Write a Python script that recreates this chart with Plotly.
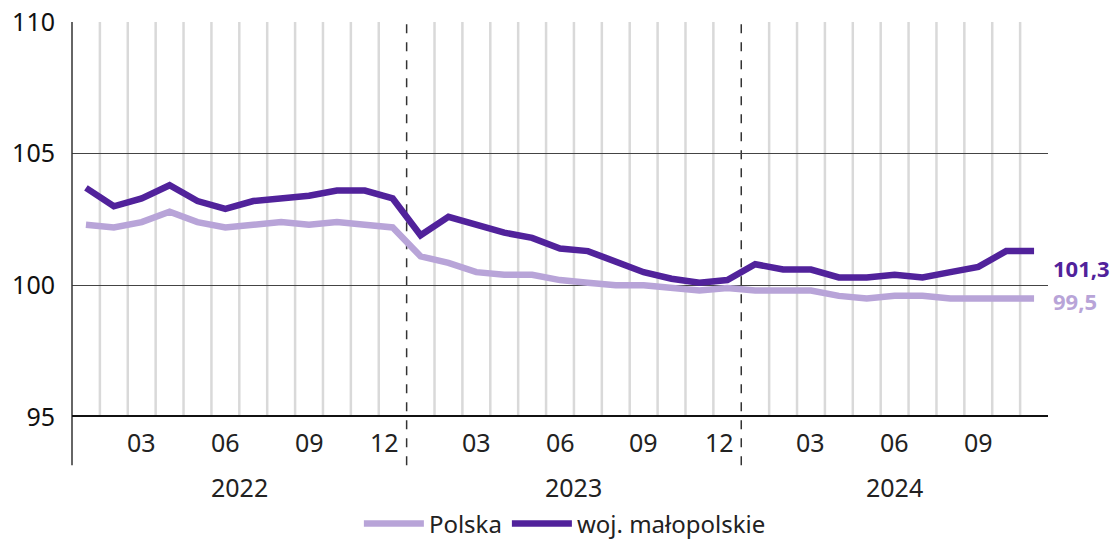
import plotly.graph_objects as go

months = ["2022-01","2022-02","2022-03","2022-04","2022-05","2022-06","2022-07","2022-08","2022-09","2022-10","2022-11","2022-12",
          "2023-01","2023-02","2023-03","2023-04","2023-05","2023-06","2023-07","2023-08","2023-09","2023-10","2023-11","2023-12",
          "2024-01","2024-02","2024-03","2024-04","2024-05","2024-06","2024-07","2024-08","2024-09","2024-10","2024-11"]

polska = [102.3, 102.2, 102.4, 102.8, 102.4, 102.2, 102.3, 102.4, 102.3, 102.4, 102.3, 102.2,
          101.1, 100.85, 100.5, 100.4, 100.4, 100.2, 100.1, 100.0, 100.0, 99.9, 99.8, 99.9,
          99.8, 99.8, 99.8, 99.6, 99.5, 99.6, 99.6, 99.5, 99.5, 99.5, 99.5]

malopolskie = [103.7, 103.0, 103.3, 103.8, 103.2, 102.9, 103.2, 103.3, 103.4, 103.6, 103.6, 103.3,
               101.9, 102.6, 102.3, 102.0, 101.8, 101.4, 101.3, 100.9, 100.5, 100.25, 100.1, 100.2,
               100.8, 100.6, 100.6, 100.3, 100.3, 100.4, 100.3, 100.5, 100.7, 101.3, 101.3]

years = ["2022", "2023", "2024"]
end_labels = ["99,5", "101,3"]

C_LIGHT = "#b8a4d8"
C_DARK = "#51229b"
FONT = "Noto Sans"
FS = 25

x = list(range(len(months)))

fig = go.Figure()
fig.add_trace(go.Scatter(x=x, y=polska, name="Polska", mode="lines",
                         line=dict(color=C_LIGHT, width=6.5), cliponaxis=False))
fig.add_trace(go.Scatter(x=x, y=malopolskie, name="woj. małopolskie", mode="lines",
                         line=dict(color=C_DARK, width=6.5), cliponaxis=False))

shapes = []
for i in range(len(months) - 1):
    b = i + 0.5
    if months[i + 1][5:] == "01":
        shapes.append(dict(type="line", xref="x", yref="paper", x0=b, x1=b, y0=-0.122, y1=1,
                           line=dict(color="#333333", width=1.5, dash="dash"), layer="below"))
    else:
        shapes.append(dict(type="line", xref="x", yref="paper", x0=b, x1=b, y0=0, y1=1,
                           line=dict(color="#d9d9d9", width=2.5), layer="below"))
shapes.append(dict(type="line", xref="paper", yref="paper", x0=0, x1=0, y0=-0.122, y1=1,
                   line=dict(color="#333333", width=1.5)))
shapes.append(dict(type="line", xref="paper", yref="y", x0=0, x1=1, y0=95, y1=95,
                   line=dict(color="#111111", width=4)))

annotations = []
for i, m in enumerate(months):
    mm = m[5:]
    if mm in ("03", "06", "09", "12"):
        annotations.append(dict(x=i, y=-0.063, xref="x", yref="paper", text=mm, showarrow=False,
                                yanchor="middle", xshift=-8 if mm == "12" else 0,
                                font=dict(family=FONT, size=FS, color="#222222")))
year_idx = {}
for i, m in enumerate(months):
    year_idx.setdefault(m[:4], []).append(i)
for yr in years:
    idx = year_idx[yr]
    annotations.append(dict(x=(idx[0] + idx[-1]) / 2, y=-0.177, xref="x", yref="paper",
                            text=yr, showarrow=False, yanchor="middle",
                            font=dict(family=FONT, size=FS, color="#222222")))
annotations.append(dict(x=len(months) - 0.5, y=polska[-1], xref="x", yref="y", text="<b>" + end_labels[0] + "</b>",
                        showarrow=False, xanchor="left", xshift=3, yshift=-2,
                        font=dict(family=FONT, size=22, color=C_LIGHT)))
annotations.append(dict(x=len(months) - 0.5, y=malopolskie[-1], xref="x", yref="y", text="<b>" + end_labels[1] + "</b>",
                        showarrow=False, xanchor="left", xshift=3, yshift=-17,
                        font=dict(family=FONT, size=22, color=C_DARK)))

fig.update_layout(
    width=1118, height=540,
    margin=dict(l=72, r=70, t=22, b=123, autoexpand=False),
    plot_bgcolor="white", paper_bgcolor="white",
    font=dict(family=FONT, size=FS, color="#222222"),
    shapes=shapes, annotations=annotations,
    showlegend=True,
    legend=dict(orientation="h", x=0.505, xanchor="center", yref="container", y=0.03, yanchor="middle",
                font=dict(family=FONT, size=24, color="#222222"), itemwidth=60),
    xaxis=dict(range=[-0.5, len(months) - 0.5], showticklabels=False,
               showgrid=False, zeroline=False, showline=False, ticks=""),
    yaxis=dict(range=[95, 110], tickvals=[95, 100, 105, 110], showgrid=True,
               gridcolor="#444444", gridwidth=1, zeroline=False, showline=False,
               ticks="", ticklabelstandoff=16, tickfont=dict(size=FS, color="#111111")),
)

fig.write_html("out.html", config={"displayModeBar": False})
with open("out.html", "r", encoding="utf-8") as f:
    html = f.read()
html = html.replace("<body>", '<body style="margin:0;padding:0;overflow:hidden">', 1)
with open("out.html", "w", encoding="utf-8") as f:
    f.write(html)
